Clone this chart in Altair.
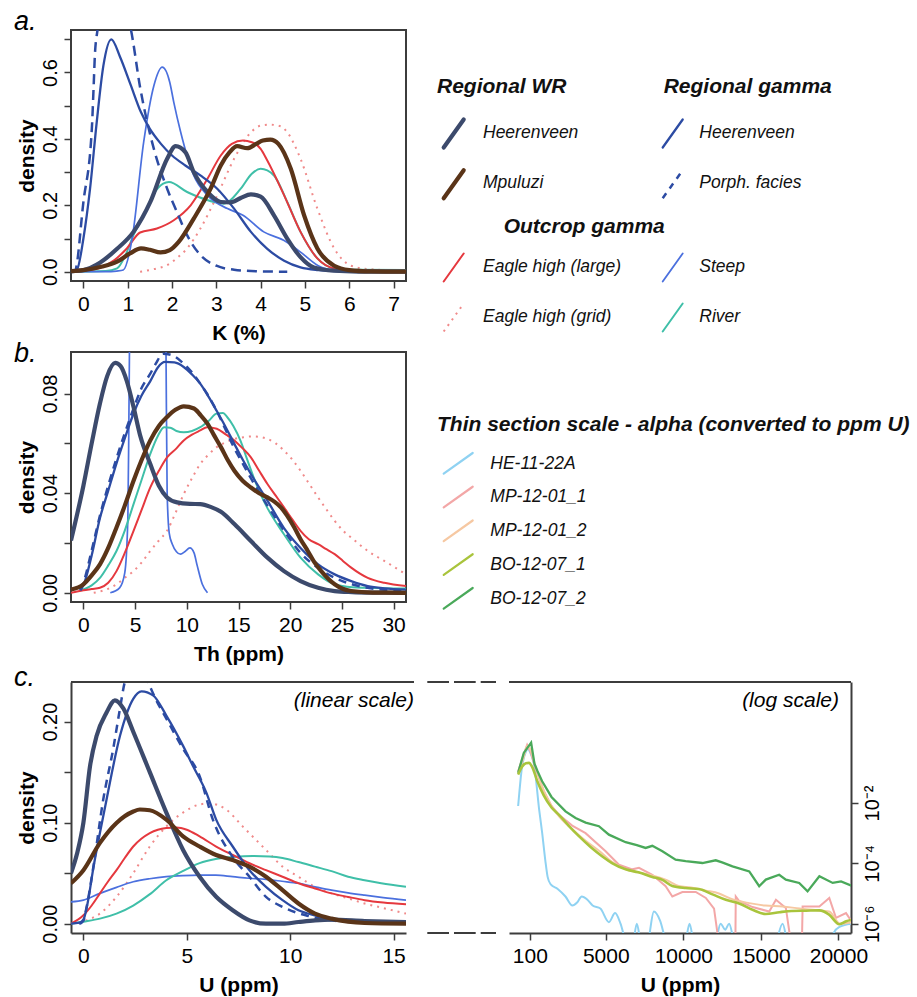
import altair as alt
import pandas as pd

FONT = "Liberation Sans"
AX = "#3c3c3c"

# ---------------- colours ----------------
C_WR_HEER = "#3c4a6c"
C_MPULUZI = "#5a3418"
C_G_HEER = "#2c4ba3"
C_STEEP = "#4b70de"
C_RIVER = "#3fbfa8"
C_RED = "#e5383e"
C_REDDOT = "#f08a8a"
C_HE = "#8fd2f2"
C_MP1 = "#f3a7a7"
C_MP2 = "#f6c8a2"
C_BO1 = "#a9c43c"
C_BO2 = "#4aa95a"

# ================= Panel a : K (%) =================
a_wr_heer_x = [-0.28, 0.0, 0.38, 0.76, 1.13, 1.51, 1.89, 2.08, 2.3, 2.49, 2.8, 3.1, 3.32, 3.55, 3.78, 4.0, 4.3, 4.6, 4.9, 5.2, 5.66, 6.2, 7.28]
a_wr_heer_y = [0.001, 0.005, 0.028, 0.069, 0.12, 0.21, 0.34, 0.378, 0.36, 0.3, 0.24, 0.21, 0.209, 0.222, 0.233, 0.226, 0.17, 0.1, 0.044, 0.013, 0.003, 0.0005, 0.0]
a_mpul_x = [-0.28, 0.0, 0.38, 0.76, 1.05, 1.3, 1.5, 1.74, 1.95, 2.15, 2.49, 2.87, 3.1, 3.3, 3.47, 3.7, 3.9, 4.05, 4.22, 4.4, 4.68, 4.98, 5.28, 5.66, 6.0, 6.5, 7.28]
a_mpul_y = [0.002, 0.005, 0.014, 0.03, 0.055, 0.07, 0.066, 0.058, 0.065, 0.09, 0.16, 0.25, 0.32, 0.36, 0.378, 0.372, 0.385, 0.395, 0.398, 0.385, 0.31, 0.17, 0.07, 0.018, 0.005, 0.001, 0.0]
a_gheer_x = [-0.28, -0.15, 0.0, 0.15, 0.3, 0.45, 0.63, 0.83, 1.06, 1.3, 1.5, 1.75, 2.0, 2.3, 2.64, 3.02, 3.4, 3.78, 4.15, 4.53, 4.9, 5.3, 5.66, 6.2, 7.28]
a_gheer_y = [0.0, 0.005, 0.1, 0.25, 0.45, 0.62, 0.70, 0.646, 0.565, 0.48, 0.43, 0.385, 0.35, 0.32, 0.29, 0.25, 0.19, 0.12, 0.069, 0.033, 0.013, 0.005, 0.002, 0.0005, 0.0]
a_porph_x = [-0.28, -0.19, 0.0, 0.19, 0.23, 0.26, 0.32, 0.45, 0.6, 0.8, 0.95, 1.07, 1.28, 1.59, 1.89, 2.11, 2.34, 2.64, 3.0, 3.4, 4.0, 4.6]
a_porph_y = [0.0, 0.003, 0.21, 0.43, 0.555, 0.655, 0.73, 0.86, 0.9, 0.86, 0.79, 0.73, 0.555, 0.37, 0.25, 0.18, 0.11, 0.05, 0.018, 0.006, 0.001, 0.0]
a_steep_x = [-0.28, 0.5, 0.75, 0.9, 1.1, 1.36, 1.59, 1.78, 1.95, 2.04, 2.19, 2.49, 2.8, 3.25, 3.6, 4.07, 4.53, 4.9, 5.3, 5.7, 6.2, 7.28]
a_steep_y = [0.0, 0.0, 0.002, 0.005, 0.1, 0.39, 0.56, 0.616, 0.57, 0.51, 0.423, 0.29, 0.23, 0.19, 0.17, 0.12, 0.094, 0.059, 0.018, 0.004, 0.001, 0.0]
a_river_x = [-0.28, 0.5, 0.76, 0.95, 1.13, 1.36, 1.59, 1.8, 1.93, 2.34, 2.6, 2.95, 3.17, 3.55, 3.8, 4.0, 4.3, 4.6, 4.9, 5.28, 5.66, 6.2, 7.28]
a_river_y = [0.0, 0.002, 0.01, 0.05, 0.11, 0.17, 0.235, 0.265, 0.27, 0.24, 0.225, 0.21, 0.205, 0.25, 0.295, 0.31, 0.29, 0.21, 0.12, 0.04, 0.01, 0.006, 0.005]
a_red_x = [-0.28, 0.0, 0.38, 0.7, 0.98, 1.28, 1.66, 2.04, 2.42, 2.8, 3.1, 3.35, 3.6, 3.8, 4.0, 4.15, 4.53, 4.9, 5.28, 5.66, 6.2, 7.28]
a_red_y = [0.0, 0.003, 0.012, 0.035, 0.07, 0.118, 0.13, 0.155, 0.2, 0.28, 0.35, 0.385, 0.395, 0.39, 0.37, 0.335, 0.23, 0.12, 0.04, 0.01, 0.004, 0.003]
a_grid_x = [1.28, 1.6, 1.89, 2.1, 2.34, 2.64, 3.02, 3.4, 3.78, 4.0, 4.2, 4.45, 4.6, 4.9, 5.28, 5.66, 6.04, 6.42, 7.28]
a_grid_y = [0.0, 0.008, 0.02, 0.04, 0.07, 0.13, 0.23, 0.34, 0.42, 0.44, 0.443, 0.438, 0.42, 0.34, 0.19, 0.07, 0.018, 0.008, 0.003]
a_xticks = [0, 1, 2, 3, 4, 5, 6, 7]
a_yticks = [0.0, 0.1, 0.2, 0.3, 0.4, 0.5, 0.6, 0.7]

# ================= Panel b : Th (ppm) =================
b_wr_heer_x = [-1.2, 0.0, 0.8, 1.6, 2.3, 3.07, 3.6, 4.2, 4.85, 5.5, 6.47, 7.3, 8.09, 9.06, 10.3, 11.3, 12.3, 13.3, 14.6, 16.2, 17.8, 19.4, 21.0, 22.7, 24.3, 26.0, 28.0, 31.2]
b_wr_heer_y = [0.021, 0.043, 0.06, 0.076, 0.087, 0.0923, 0.091, 0.085, 0.0746, 0.063, 0.0517, 0.043, 0.0383, 0.0363, 0.0357, 0.0356, 0.0345, 0.0325, 0.0276, 0.0208, 0.0141, 0.0087, 0.0047, 0.002, 0.0007, 0.0003, 0.0001, 0.0]
b_gheer_x = [-0.3, 0.0, 0.8, 1.6, 2.4, 3.2, 4.0, 4.85, 5.6, 6.47, 7.2, 7.9, 8.8, 9.7, 10.5, 11.3, 12.1, 12.9, 13.7, 14.6, 15.4, 16.2, 17.8, 19.4, 21.0, 22.7, 24.3, 25.9, 27.5, 29.1, 31.2]
b_gheer_y = [0.001, 0.003, 0.015, 0.03, 0.041, 0.052, 0.062, 0.072, 0.079, 0.085, 0.0905, 0.0927, 0.0925, 0.0907, 0.0877, 0.084, 0.0788, 0.073, 0.067, 0.0598, 0.0535, 0.0477, 0.037, 0.026, 0.018, 0.0114, 0.0074, 0.0047, 0.0027, 0.0018, 0.0013]
b_porph_x = [-0.3, 0.0, 0.8, 1.6, 2.4, 3.2, 4.0, 4.85, 5.6, 6.47, 7.0, 7.7, 8.5, 9.7, 10.5, 11.3, 12.1, 12.9, 13.7, 14.6, 15.4, 16.2, 17.8, 19.4, 21.0, 22.7, 24.3, 25.9, 27.5, 29.1, 31.2]
b_porph_y = [0.001, 0.004, 0.017, 0.031, 0.043, 0.054, 0.064, 0.074, 0.082, 0.088, 0.092, 0.096, 0.0955, 0.092, 0.0885, 0.084, 0.079, 0.073, 0.066, 0.058, 0.052, 0.046, 0.035, 0.025, 0.016, 0.01, 0.006, 0.0035, 0.002, 0.0012, 0.0008]
b_steep_x = [2.6, 3.5, 4.0, 4.3, 4.4, 4.5, 4.7, 5.5, 6.5, 7.5, 7.9, 8.0, 8.1, 8.3, 8.6, 9.0, 9.4, 9.8, 10.3, 10.7, 11.0, 11.5, 12.0]
b_steep_y = [0.0, 0.002, 0.008, 0.03, 0.07, 0.12, 0.17, 0.21, 0.22, 0.2, 0.15, 0.09, 0.04, 0.024, 0.0195, 0.0165, 0.0155, 0.0165, 0.018, 0.016, 0.011, 0.0034, 0.0]
b_river_x = [-0.3, 0.8, 1.6, 2.4, 3.2, 4.0, 4.85, 5.6, 6.47, 7.2, 7.8, 8.4, 9.0, 9.7, 10.5, 11.3, 12.1, 12.9, 13.5, 13.9, 14.5, 15.2, 15.8, 16.5, 17.2, 17.8, 19.4, 21.0, 22.7, 24.3, 26.0, 27.5, 29.1, 31.2]
b_river_y = [0.001, 0.003, 0.006, 0.011, 0.0168, 0.025, 0.0356, 0.045, 0.0558, 0.063, 0.0665, 0.0663, 0.065, 0.0645, 0.065, 0.0665, 0.069, 0.072, 0.0722, 0.0706, 0.067, 0.061, 0.054, 0.046, 0.039, 0.034, 0.0235, 0.0141, 0.0074, 0.0034, 0.0022, 0.002, 0.0018, 0.0017]
b_red_x = [-1.2, 0.0, 0.8, 1.6, 2.4, 3.2, 4.0, 4.85, 5.6, 6.47, 7.3, 8.09, 9.0, 9.7, 10.5, 11.3, 11.97, 12.9, 13.8, 14.6, 15.4, 16.2, 17.0, 17.8, 18.6, 19.4, 20.2, 21.0, 21.8, 22.7, 23.5, 24.3, 25.1, 25.9, 27.5, 29.1, 31.2]
b_red_y = [0.0, 0.001, 0.0015, 0.002, 0.004, 0.0087, 0.016, 0.0249, 0.033, 0.0423, 0.049, 0.0544, 0.058, 0.0612, 0.0635, 0.0652, 0.0665, 0.0659, 0.0635, 0.0612, 0.058, 0.0544, 0.049, 0.0437, 0.039, 0.0343, 0.0295, 0.0249, 0.0215, 0.0195, 0.0175, 0.0155, 0.0128, 0.0101, 0.006, 0.004, 0.0027]
b_grid_x = [1.0, 2.0, 3.2, 4.0, 4.85, 5.6, 6.47, 7.3, 8.09, 8.9, 9.7, 10.5, 11.3, 12.1, 12.9, 13.8, 14.6, 15.5, 16.5, 17.2, 17.8, 18.6, 19.4, 20.2, 21.0, 21.8, 22.7, 23.5, 24.3, 25.1, 25.9, 27.5, 29.1, 31.2]
b_grid_y = [0.0, 0.001, 0.0034, 0.006, 0.0087, 0.012, 0.0168, 0.021, 0.0249, 0.032, 0.0396, 0.046, 0.0517, 0.0555, 0.0585, 0.0605, 0.0618, 0.0625, 0.0628, 0.0625, 0.0618, 0.06, 0.0571, 0.0535, 0.049, 0.044, 0.0383, 0.0335, 0.0289, 0.025, 0.0222, 0.0168, 0.0128, 0.0074]
b_mpul_x = [-1.2, 0.0, 0.8, 1.6, 2.4, 3.2, 4.0, 4.85, 5.6, 6.47, 7.3, 8.09, 8.9, 9.7, 10.7, 11.3, 12.0, 12.6, 13.3, 14.0, 14.6, 15.4, 16.2, 17.0, 17.8, 18.5, 19.1, 19.7, 20.4, 21.0, 21.7, 22.3, 23.0, 24.3, 25.9, 28.0, 31.2]
b_mpul_y = [0.0013, 0.0034, 0.007, 0.0114, 0.018, 0.0262, 0.035, 0.045, 0.053, 0.0612, 0.067, 0.0706, 0.0735, 0.0749, 0.074, 0.0715, 0.0679, 0.0635, 0.0585, 0.053, 0.049, 0.045, 0.0423, 0.04, 0.0383, 0.0365, 0.0343, 0.031, 0.0262, 0.0215, 0.0168, 0.0125, 0.0087, 0.0034, 0.0007, 0.0001, 0.0]
b_xticks = [0, 5, 10, 15, 20, 25, 30]
b_yticks = [0.0, 0.02, 0.04, 0.06, 0.08]

# ================= Panel c (linear) : U (ppm) =================
c_wr_heer_x = [-0.6, -0.3, 0.0, 0.32, 0.64, 1.12, 1.52, 1.93, 2.41, 3.21, 4.01, 4.82, 5.62, 6.42, 7.22, 8.03, 8.83, 9.63, 10.4, 11.2, 12.0, 13.6, 15.6]
c_wr_heer_y = [0.05, 0.07, 0.1, 0.156, 0.186, 0.209, 0.221, 0.213, 0.19, 0.15, 0.11, 0.073, 0.0465, 0.0266, 0.0133, 0.0033, 0.0, 0.0, 0.0017, 0.0033, 0.004, 0.0027, 0.0017]
c_gheer_x = [-0.6, -0.2, 0.0, 0.2, 0.48, 0.8, 1.12, 1.77, 2.41, 2.81, 3.37, 4.01, 4.82, 5.3, 5.94, 6.42, 7.22, 8.03, 8.83, 9.63, 10.4, 11.2, 12.0, 13.6, 15.6]
c_gheer_y = [0.0, 0.001, 0.004, 0.02, 0.055, 0.09, 0.123, 0.186, 0.2226, 0.23, 0.226, 0.206, 0.176, 0.156, 0.13, 0.103, 0.0764, 0.053, 0.0365, 0.0233, 0.0133, 0.0083, 0.005, 0.0017, 0.0007]
c_porph_x = [-0.2, 0.0, 0.16, 0.48, 0.96, 1.44, 1.77, 2.0, 2.3, 2.6, 2.9, 3.13, 3.5, 4.01, 4.82, 5.62, 6.26, 7.22, 8.03, 8.83, 9.63, 10.75, 12.0, 13.5, 15.6]
c_porph_y = [0.0, 0.003, 0.017, 0.056, 0.123, 0.173, 0.213, 0.239, 0.25, 0.254, 0.25, 0.239, 0.222, 0.203, 0.173, 0.146, 0.103, 0.066, 0.0465, 0.0266, 0.0166, 0.0083, 0.0033, 0.001, 0.0]
c_steep_x = [-0.6, 0.0, 0.8, 1.6, 2.41, 3.2, 4.01, 4.8, 5.62, 6.4, 7.22, 8.0, 8.83, 9.6, 10.4, 11.2, 12.0, 12.8, 13.6, 14.5, 15.6]
c_steep_y = [0.0216, 0.0233, 0.03, 0.036, 0.0415, 0.0445, 0.0465, 0.0475, 0.048, 0.048, 0.0465, 0.045, 0.0438, 0.042, 0.04, 0.0365, 0.0332, 0.0305, 0.0282, 0.0258, 0.0233]
c_river_x = [-0.6, 0.0, 0.8, 1.6, 2.41, 3.2, 4.01, 4.8, 5.62, 6.4, 7.22, 8.19, 9.0, 9.63, 10.4, 11.2, 12.0, 12.8, 13.6, 14.4, 15.6]
c_river_y = [0.0, 0.002, 0.005, 0.01, 0.018, 0.029, 0.043, 0.052, 0.06, 0.064, 0.066, 0.067, 0.0665, 0.065, 0.061, 0.0565, 0.052, 0.0465, 0.043, 0.04, 0.0365]
c_red_x = [-0.6, 0.0, 0.4, 0.8, 1.2, 1.6, 2.0, 2.41, 2.8, 3.21, 3.6, 4.01, 4.5, 5.0, 5.62, 6.42, 7.22, 8.03, 8.83, 9.63, 10.4, 11.2, 12.0, 12.8, 13.6, 14.5, 15.6]
c_red_y = [0.0, 0.0083, 0.018, 0.03, 0.042, 0.053, 0.065, 0.0764, 0.084, 0.0897, 0.093, 0.0947, 0.0953, 0.093, 0.0864, 0.0764, 0.068, 0.0598, 0.053, 0.0465, 0.04, 0.0349, 0.03, 0.0265, 0.0233, 0.021, 0.0193]
c_grid_x = [-0.2, 0.0, 0.8, 1.6, 2.41, 3.21, 4.01, 4.82, 5.62, 6.1, 6.9, 7.7, 8.83, 9.63, 10.4, 11.2, 12.0, 12.8, 13.6, 14.5, 15.6]
c_grid_y = [0.0, 0.002, 0.01, 0.0266, 0.05, 0.0764, 0.0963, 0.11, 0.118, 0.119, 0.113, 0.0963, 0.073, 0.0565, 0.0465, 0.0365, 0.03, 0.025, 0.02, 0.0155, 0.01]
c_mpul_x = [-0.6, 0.0, 0.8, 1.6, 2.41, 2.73, 3.21, 4.01, 4.82, 5.62, 6.42, 7.22, 8.03, 8.83, 9.63, 10.4, 11.2, 12.0, 12.8, 13.6, 15.6]
c_mpul_y = [0.04, 0.053, 0.08, 0.0997, 0.111, 0.113, 0.1123, 0.103, 0.0864, 0.0764, 0.068, 0.063, 0.0565, 0.0465, 0.0332, 0.02, 0.01, 0.005, 0.002, 0.0007, 0.0]
c_xticks = [0, 5, 10, 15]
c_yticks = [0.0, 0.05, 0.10, 0.15, 0.20]

# ================= Panel c (log) : thin sections, log10 density =================
r_he_x = [-650, -400, -150, 0, 100, 400, 700, 900, 1100, 1250, 1450, 1900, 2400, 2850, 3150, 3450, 3800, 4150, 4650, 5200, 5600, 5950, 6300, 6700, 7000, 7300, 7700, 8100, 8500, 8900, 9500, 10100, 10400, 10700, 11500, 12100, 12400, 12700, 12950, 13300, 14500, 15800, 16400, 16800, 18000, 19300, 19700, 20100, 20800]
r_he_y = [-2.1, -0.8, -0.3, -0.2, -0.3, -0.8, -2.2, -3.0, -3.9, -4.45, -4.7, -4.85, -5.1, -5.4, -5.3, -5.1, -5.2, -5.4, -5.5, -5.95, -5.65, -6.0, -6.6, -6.8, -6.0, -6.7, -6.6, -5.6, -5.9, -6.6, -6.9, -6.7, -6.0, -6.7, -7.0, -6.6, -6.0, -6.2, -6.0, -6.6, -7.0, -6.9, -6.0, -6.8, -7.0, -6.9, -6.3, -6.1, -6.0]
r_mp1_x = [-650, -300, -70, 150, 500, 1000, 1500, 2000, 2834, 3695, 4990, 5850, 6710, 7140, 8000, 8860, 9290, 9940, 10800, 11450, 11980, 12250, 12800, 13350, 13380, 13600, 14460, 15540, 15970, 16610, 16900, 17300, 17650, 17690, 18770, 19410, 19840, 20490, 20920]
r_mp1_y = [-0.95, -0.4, -0.07, -0.3, -0.9, -1.6, -2.1, -2.4, -2.75, -3.0, -3.6, -4.05, -4.2, -4.15, -4.38, -4.76, -5.1, -4.95, -4.95, -5.15, -5.5, -6.5, -7.5, -7.0, -5.1, -5.25, -5.45, -5.6, -5.21, -5.48, -6.5, -7.5, -6.5, -5.43, -5.43, -5.15, -5.81, -5.65, -5.98]
r_mp2_x = [-650, -300, -70, 150, 500, 1000, 1500, 2000, 2800, 3700, 4600, 5400, 6300, 7100, 8000, 8900, 9700, 10500, 11400, 12300, 13200, 14250, 15300, 16400, 17500, 18500, 19400, 20100, 20900]
r_mp2_y = [-1.0, -0.5, -0.1, -0.25, -0.85, -1.6, -2.1, -2.45, -2.85, -3.25, -3.6, -3.95, -4.2, -4.3, -4.4, -4.55, -4.75, -4.8, -4.9, -5.0, -5.2, -5.32, -5.4, -5.43, -5.5, -5.55, -5.6, -6.0, -5.95]
r_bo1_x = [-650, -400, -150, 50, 250, 600, 1000, 1500, 2000, 2600, 3265, 4000, 4800, 5400, 6280, 7100, 8000, 8650, 9290, 10150, 11000, 11880, 12740, 13600, 14500, 15300, 16200, 17000, 17900, 18770, 19400, 20060, 20500, 20900]
r_bo1_y = [-1.06, -0.8, -0.68, -0.67, -0.8, -1.3, -1.75, -2.15, -2.4, -2.75, -3.1, -3.45, -3.78, -3.99, -4.2, -4.3, -4.45, -4.55, -4.75, -4.82, -4.85, -5.03, -5.21, -5.33, -5.55, -5.68, -5.62, -5.58, -5.57, -5.56, -5.7, -6.02, -5.92, -5.87]
r_bo2_x = [-650, -287, 186, 400, 600, 897, 1500, 2404, 3050, 3700, 4557, 5200, 6280, 7000, 7570, 8000, 8650, 9500, 10150, 11230, 12090, 12500, 13170, 14250, 14890, 15320, 16180, 16610, 17470, 18010, 18770, 19630, 20170, 20920]
r_bo2_y = [-1.0, -0.34, 0.0, -0.7, -0.95, -1.28, -1.8, -2.28, -2.5, -2.65, -2.77, -3.05, -3.3, -3.4, -3.49, -3.42, -3.6, -3.88, -3.93, -3.99, -3.9, -3.97, -4.1, -4.27, -4.76, -4.54, -4.38, -4.54, -4.65, -4.93, -4.43, -4.65, -4.6, -4.76]
r_xticks = [100, 5000, 10000, 15000, 20000]
r_yticks = [-2, -4, -6]

# ================= legend texts =================
leg1_headers = ["Regional WR", "Regional gamma", "Outcrop gamma"]
leg1_labels = ["Heerenveen", "Mpuluzi", "Heerenveen", "Porph. facies",
               "Eagle high (large)", "Eagle high (grid)", "Steep", "River"]
leg2_header = "Thin section scale - alpha (converted to ppm U)"
leg2_labels = ["HE-11-22A", "MP-12-01_1", "MP-12-01_2", "BO-12-07_1", "BO-12-07_2"]

# ---------------------------------------------------------------
LBL = 21
TTL = 21


def xaxis(values, title, domain=False):
    return alt.Axis(values=values, title=title, grid=False, domain=domain,
                    domainColor=AX, domainWidth=2,
                    tickSize=7, tickColor=AX, tickWidth=1.5, labelFontSize=LBL,
                    labelPadding=5, labelFlush=False, labelOverlap=False,
                    labelColor="black", titleFontSize=TTL, titleFontWeight="bold",
                    titlePadding=8, titleColor="black", format="d")


def yaxis(values, expr, title="density", orient="left", domain=False):
    kw = dict(values=values, labelExpr=expr, title=title, grid=False,
              domain=domain, domainColor=AX, domainWidth=2,
              tickSize=7, tickColor=AX, tickWidth=1.5, labelFontSize=20,
              labelAngle=-90, labelAlign="center", labelPadding=4,
              labelOverlap=False, labelFlush=False, labelColor="black",
              titleFontSize=TTL, titleFontWeight="bold", titlePadding=3,
              titleColor="black", orient=orient)
    kw["labelBaseline"] = "top" if orient == "right" else "bottom"
    return alt.Axis(**kw)


def line(xs, ys, X, Y, color, width, dash=None, interp="monotone"):
    df = pd.DataFrame({"x": xs, "y": ys})
    kw = dict(color=color, strokeWidth=width, interpolate=interp, clip=True)
    if dash is not None:
        kw["strokeDash"] = dash
    return alt.Chart(df).mark_line(**kw).encode(x=X, y=Y)


ONE = pd.DataFrame({"k": [0]})


def label(txt, dy, opacity=1.0):
    return alt.Chart(ONE).mark_text(text=txt, font=FONT, fontSize=27, fontStyle="italic",
                                    align="left", baseline="alphabetic",
                                    opacity=opacity, color="black").encode(
        x=alt.value(-57), y=alt.value(dy))


def hrule(x1, x2, y, dash=None, width=2):
    kw = dict(color=AX, strokeWidth=width)
    if dash is not None:
        kw["strokeDash"] = dash
    return alt.Chart(ONE).mark_rule(**kw).encode(x=alt.value(x1), x2=alt.value(x2), y=alt.value(y))


FRAME = alt.ViewBackground(stroke=AX, strokeWidth=2)
W_L, H = 335, 251

# ---------- panel a ----------
Xa = alt.X("x:Q", scale=alt.Scale(domain=[-0.28, 7.28], nice=False, zero=False), axis=xaxis(a_xticks, "K (%)"))
Ya = alt.Y("y:Q", scale=alt.Scale(domain=[-0.028, 0.728], nice=False, zero=False),
           axis=yaxis(a_yticks, "(round(datum.value*10) % 2 == 0) ? format(datum.value, '.1f') : ''"))
chart_a = alt.layer(
    line(a_grid_x, a_grid_y, Xa, Ya, C_REDDOT, 2, [2, 5]),
    line(a_river_x, a_river_y, Xa, Ya, C_RIVER, 2),
    line(a_red_x, a_red_y, Xa, Ya, C_RED, 2),
    line(a_steep_x, a_steep_y, Xa, Ya, C_STEEP, 1.7),
    line(a_porph_x, a_porph_y, Xa, Ya, C_G_HEER, 2.5, [10, 6]),
    line(a_gheer_x, a_gheer_y, Xa, Ya, C_G_HEER, 2.3),
    line(a_wr_heer_x, a_wr_heer_y, Xa, Ya, C_WR_HEER, 4.2),
    line(a_mpul_x, a_mpul_y, Xa, Ya, C_MPULUZI, 4.2),
    label("a.", 0),
).properties(width=W_L, height=H, view=FRAME)

# ---------- panel b ----------
Xb = alt.X("x:Q", scale=alt.Scale(domain=[-1.2, 31.2], nice=False, zero=False), axis=xaxis(b_xticks, "Th (ppm)"))
Yb = alt.Y("y:Q", scale=alt.Scale(domain=[-0.0037, 0.0967], nice=False, zero=False),
           axis=yaxis(b_yticks, "(round(datum.value*100) % 4 == 0) ? format(datum.value, '.2f') : ''"))
chart_b = alt.layer(
    line(b_grid_x, b_grid_y, Xb, Yb, C_REDDOT, 2, [2, 5]),
    line(b_steep_x, b_steep_y, Xb, Yb, C_STEEP, 1.7),
    line(b_river_x, b_river_y, Xb, Yb, C_RIVER, 2),
    line(b_red_x, b_red_y, Xb, Yb, C_RED, 2),
    line(b_porph_x, b_porph_y, Xb, Yb, C_G_HEER, 2.5, [8, 6]),
    line(b_gheer_x, b_gheer_y, Xb, Yb, C_G_HEER, 2.3),
    line(b_wr_heer_x, b_wr_heer_y, Xb, Yb, C_WR_HEER, 4.2),
    line(b_mpul_x, b_mpul_y, Xb, Yb, C_MPULUZI, 4.2),
    label("b.", 10),
).properties(width=W_L, height=250, view=FRAME)

# ---------- panel c linear ----------
Xc = alt.X("x:Q", scale=alt.Scale(domain=[-0.6, 15.6], nice=False, zero=False),
           axis=xaxis(c_xticks, "U (ppm)", domain=True))
Yc = alt.Y("y:Q", scale=alt.Scale(domain=[-0.0092, 0.2392], nice=False, zero=False),
           axis=yaxis(c_yticks, "(round(datum.value*100) % 10 == 0) ? format(datum.value, '.2f') : ''", domain=True))
chart_cl = alt.layer(
    line(c_grid_x, c_grid_y, Xc, Yc, C_REDDOT, 2, [2, 5]),
    line(c_steep_x, c_steep_y, Xc, Yc, C_STEEP, 1.7),
    line(c_river_x, c_river_y, Xc, Yc, C_RIVER, 2),
    line(c_red_x, c_red_y, Xc, Yc, C_RED, 2),
    line(c_porph_x, c_porph_y, Xc, Yc, C_G_HEER, 2.5, [8, 6]),
    line(c_gheer_x, c_gheer_y, Xc, Yc, C_G_HEER, 2.3),
    line(c_wr_heer_x, c_wr_heer_y, Xc, Yc, C_WR_HEER, 4.2),
    line(c_mpul_x, c_mpul_y, Xc, Yc, C_MPULUZI, 4.2),
    hrule(0, 343, 0),
    alt.Chart(ONE).mark_text(text="(linear scale)", font=FONT, fontSize=21, fontStyle="italic",
                             align="right", baseline="middle", color="black").encode(
        x=alt.value(343), y=alt.value(19)),
    label("c.", 4),
).properties(width=W_L, height=H)

# ---------- panel c log ----------
W_R = 342
Xr = alt.X("x:Q", scale=alt.Scale(domain=[-1240, 20810], nice=False, zero=False),
           axis=xaxis(r_xticks, "U (ppm)", domain=True))
Yr = alt.Y("y:Q", scale=alt.Scale(domain=[-6.31, 2.01], nice=False, zero=False),
           axis=yaxis(r_yticks, "datum.value == -2 ? '10⁻²' : (datum.value == -4 ? '10⁻⁴' : '10⁻⁶')",
                      title=None, orient="right", domain=True))
chart_cr = alt.layer(
    line(r_he_x, r_he_y, Xr, Yr, C_HE, 2),
    line(r_mp1_x, r_mp1_y, Xr, Yr, C_MP1, 2, interp="linear"),
    line(r_mp2_x, r_mp2_y, Xr, Yr, C_MP2, 2),
    line(r_bo2_x, r_bo2_y, Xr, Yr, C_BO2, 2.3, interp="linear"),
    line(r_bo1_x, r_bo1_y, Xr, Yr, C_BO1, 2.6),
    hrule(0, W_R, 0),
    hrule(-81.7, -13, 0, dash=[21.7, 5]),
    hrule(-81.7, -13, H, dash=[21.7, 5]),
    alt.Chart(ONE).mark_text(text="(log scale)", font=FONT, fontSize=21, fontStyle="italic",
                             align="right", baseline="middle", color="black").encode(
        x=alt.value(330), y=alt.value(19)),
).properties(width=W_R, height=H)

# ---------- legends ----------
def ltext(txt, x, y, head=False):
    if head:
        mk = dict(fontSize=21, fontStyle="italic", fontWeight="bold")
    else:
        mk = dict(fontSize=17.5, fontStyle="italic")
    return alt.Chart(ONE).mark_text(text=txt, font=FONT, align="left", baseline="middle",
                                    color="#111", **mk).encode(x=alt.value(x), y=alt.value(y))


def lsym(x1, y1, x2, y2, color, width, dash=None):
    kw = dict(color=color, strokeWidth=width, strokeCap="round")
    if dash is not None:
        kw["strokeDash"] = dash
        kw["strokeCap"] = "butt"
    return alt.Chart(ONE).mark_rule(**kw).encode(x=alt.value(x1), y=alt.value(y1),
                                                 x2=alt.value(x2), y2=alt.value(y2))


def frame(w, h):
    return alt.Chart(ONE).mark_rule(opacity=0).encode(x=alt.value(0), y=alt.value(0),
                                                      x2=alt.value(w), y2=alt.value(h))


OY1 = 28.5   # page y of legend-1 origin (= top of panel a)
LW1, LH1 = 480, 290
L = 21.7
R = 240.7
leg1_layers = [frame(LW1, LH1),
               ltext(leg1_headers[0], 15, 85 - OY1, True),
               ltext(leg1_headers[1], 241.7, 85 - OY1, True),
               ltext(leg1_headers[2], 81.7, 225 - OY1, True)]
rows_y = [131, 181.7, 265, 315]
sym_specs = [
    (L, 0, C_WR_HEER, 4.2, None), (L, 1, C_MPULUZI, 4.2, None),
    (R, 0, C_G_HEER, 2.3, None), (R, 1, C_G_HEER, 2.5, [6, 6]),
    (L, 2, C_RED, 2, None), (L, 3, C_REDDOT, 2, [2, 5]),
    (R, 2, C_STEEP, 1.8, None), (R, 3, C_RIVER, 2, None),
]
for lab, (sx, ri, col, wd, ds) in zip(leg1_labels, sym_specs):
    ty = rows_y[ri] - OY1
    tx = 61 if sx == L else 277.3
    leg1_layers.append(lsym(sx, ty + 15, sx + 20, ty - 13, col, wd, ds))
    leg1_layers.append(ltext(lab, tx, ty))
legend1 = alt.layer(*leg1_layers).properties(width=LW1, height=LH1)

OY2 = 351.7  # page y of legend-2 origin (= top of panel b)
LW2, LH2 = 480, 255
leg2_layers = [frame(LW2, LH2), ltext(leg2_header, 15, 425 - OY2, True)]
leg2_cols = [C_HE, C_MP1, C_MP2, C_BO1, C_BO2]
for i, (lab, col) in enumerate(zip(leg2_labels, leg2_cols)):
    ty = 463.3 + i * 33.75 - OY2
    leg2_layers.append(lsym(21.7, ty + 10, 50.7, ty - 10.6, col, 2.2))
    leg2_layers.append(ltext(lab, 68.3, ty))
legend2 = alt.layer(*leg2_layers).properties(width=LW2, height=LH2)

row1 = alt.hconcat(chart_a, legend1, spacing=14)
row2 = alt.hconcat(chart_b, legend2, spacing=14)
row3 = alt.hconcat(chart_cl, chart_cr, spacing=9)

top = alt.vconcat(row1, row2, spacing=-5)
chart = alt.vconcat(top, row3, spacing=-2).properties(
    padding={"left": 13, "top": 7, "right": 0, "bottom": 0}
).configure(font=FONT).configure_view(stroke="transparent")

chart.save("out.html", embed_options={"renderer": "svg", "actions": False})
